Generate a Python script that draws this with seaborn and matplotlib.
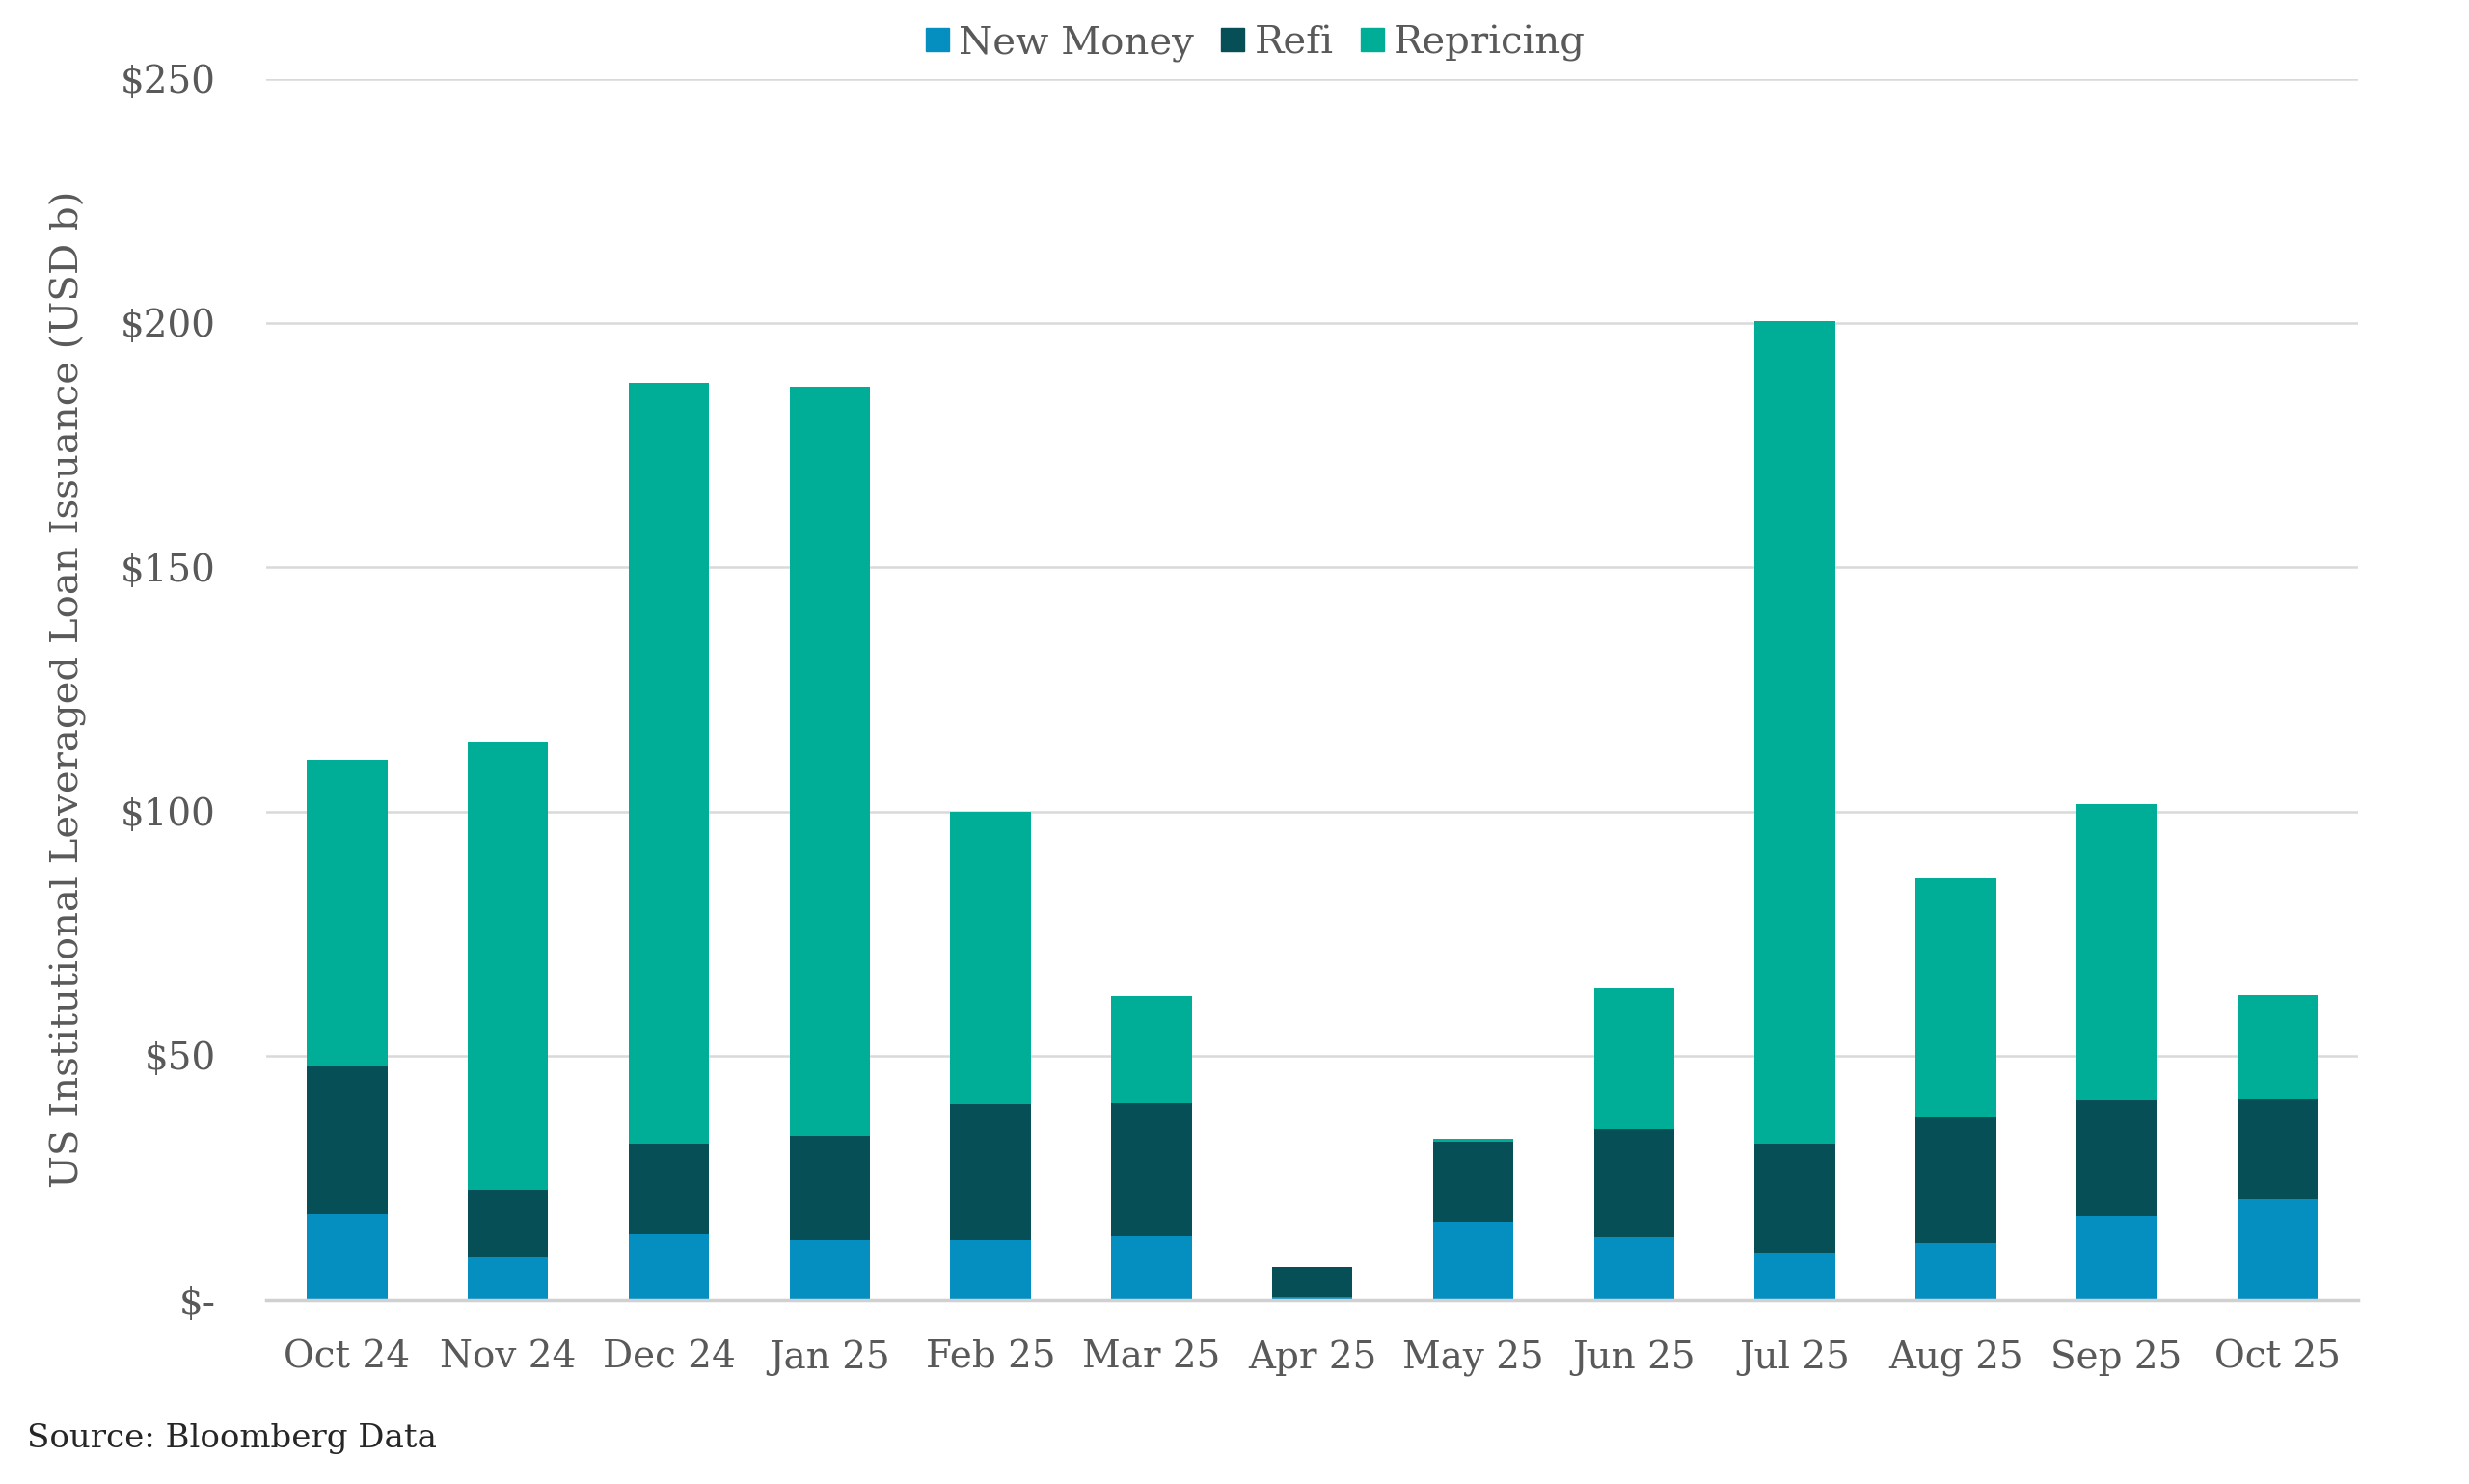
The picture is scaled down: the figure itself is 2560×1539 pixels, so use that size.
import numpy as np
import pandas as pd
import seaborn as sns
import matplotlib.pyplot as plt
from matplotlib.lines import Line2D
from matplotlib.ticker import FuncFormatter

months = ["Oct 24", "Nov 24", "Dec 24", "Jan 25", "Feb 25", "Mar 25", "Apr 25",
          "May 25", "Jun 25", "Jul 25", "Aug 25", "Sep 25", "Oct 25"]
new_money = [17.6, 8.7, 13.4, 12.2, 12.2, 13.0, 0.7, 16.1, 12.9, 9.7, 11.6, 17.3, 20.7]
refi = [30.2, 13.9, 18.7, 21.3, 27.9, 27.3, 6.1, 16.4, 22.1, 22.3, 25.9, 23.5, 20.4]
repricing = [62.7, 91.8, 155.7, 153.4, 59.8, 21.9, 0.0, 0.5, 28.8, 168.4, 48.8, 60.7, 21.4]

C_NEW = "#058fc1"
C_REFI = "#074f56"
C_REP = "#00ae97"
TXT = "#595959"

sns.set_style("white")
plt.rcParams["font.family"] = ["DejaVu Serif", "DejaVu Sans"]

df = pd.DataFrame({"month": months, "new": new_money, "refi": refi, "rep": repricing})
df["lvl1"] = df["new"]
df["lvl2"] = df["new"] + df["refi"]
df["lvl3"] = df["lvl2"] + df["rep"]

fig = plt.figure(figsize=(25.6, 15.39), dpi=100)
ax = fig.add_axes([0.108, 0.124, 0.847, 0.823])

# stacked bars drawn as overlapping cumulative bars
for col, c in [("lvl3", C_REP), ("lvl2", C_REFI), ("lvl1", C_NEW)]:
    sns.barplot(data=df, x="month", y=col, color=c, width=0.5, saturation=1,
                linewidth=0, ax=ax)

ax.set_ylim(0, 250)
ax.set_xlim(-0.5, len(months) - 0.5)
ax.set_yticks(np.arange(0, 251, 50))
ax.yaxis.set_major_formatter(FuncFormatter(lambda v, p: "$-" if v == 0 else "${:.0f}".format(v)))
ax.grid(axis="y", color="#d9d9d9", linewidth=1.8)
ax.set_axisbelow(True)
for s in ["top", "right", "left"]:
    ax.spines[s].set_visible(False)
ax.spines["bottom"].set_color("#d0d0d0")
ax.spines["bottom"].set_linewidth(2.5)

ax.tick_params(axis="y", length=0, pad=38, labelsize=28, labelcolor=TXT)
ax.tick_params(axis="x", length=0, pad=30, labelsize=28, labelcolor=TXT)
ax.set_xlabel("")
ax.set_ylabel("US Institutional Leveraged Loan Issuance (USD b)", fontsize=29, color=TXT)
ax.yaxis.set_label_coords(-0.086, 0.5)

handles = [Line2D([0], [0], marker="s", linestyle="", markersize=17, color=c)
           for c in [C_NEW, C_REFI, C_REP]]
leg = fig.legend(handles, ["New Money", "Refi", "Repricing"], loc="center",
                 bbox_to_anchor=(0.507, 0.971), ncol=3, frameon=False, fontsize=29,
                 handletextpad=0.05, columnspacing=0.5, handlelength=1.0)
for t in leg.get_texts():
    t.set_color(TXT)

fig.text(0.011, 0.02, "Source: Bloomberg Data", fontsize=24.5, color="#262626", ha="left", va="bottom")

fig.savefig("out.png", dpi=100)
